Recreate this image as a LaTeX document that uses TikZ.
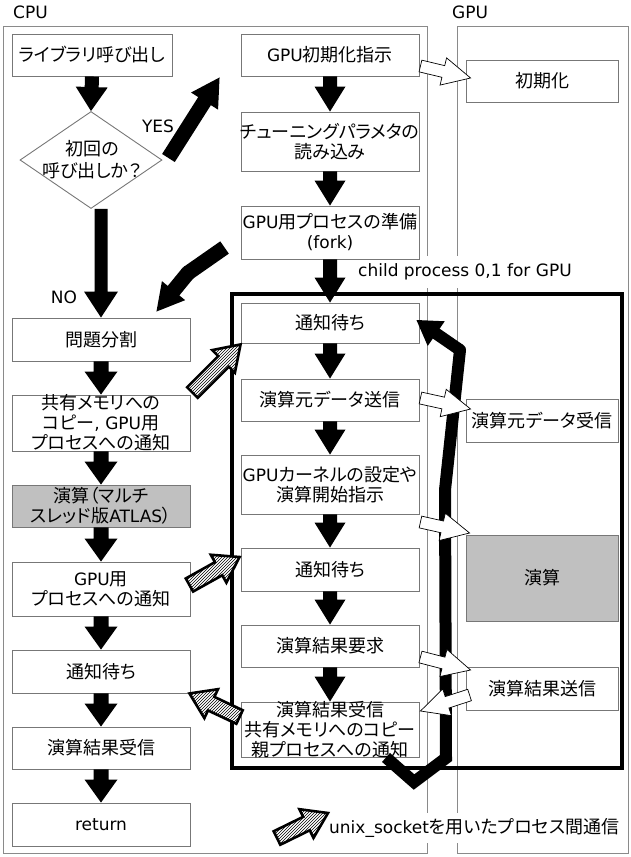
\documentclass[tikz,border=0pt]{standalone}
\usepackage{fontspec}
\setmainfont[RawFeature=+palt]{Noto Sans CJK JP}
\newfontfamily\latf[Scale=0.944]{DejaVu Sans}
\usetikzlibrary{calc,fit,patterns,shapes.geometric}
\definecolor{boxgray}{HTML}{777777}
\definecolor{panelgray}{HTML}{8A8A8A}
\definecolor{fillgray}{HTML}{C0C0C0}
% fat arrow polygon: style, tail, tip, shaft half width, head half width, head length
\newcommand\fatarr[6]{%
  \coordinate (faq) at ($(#3)!#6!(#2)$);
  \path[#1] ($(#2)!#4!90:(#3)$) -- ($(faq)!#4!90:(#3)$) -- ($(faq)!#5!90:(#3)$) -- (#3)
    -- ($(faq)!#5!-90:(#3)$) -- ($(faq)!#4!-90:(#3)$) -- ($(#2)!#4!-90:(#3)$) -- cycle;}
\newcommand\bx[7][box]{%
  \node[#1, fit={(#3,#4) (#5,#6)}] (#2) {};
  \node[txt] at (#2.center) {#7};}
\tikzset{
  box/.style={draw=boxgray, line width=0.9pt, inner sep=0pt},
  gbox/.style={box, fill=fillgray},
  txt/.style={align=center, font=\fontsize{18}{20}\selectfont, inner sep=0pt},
  lab/.style={inner sep=0pt, font=\fontsize{18}{20}\selectfont},
  blk/.style={fill=black},
  wht/.style={draw=black, line width=0.7pt, fill=white, line join=miter},
  hat/.style={draw=black, line width=2.6pt, line join=miter, preaction={fill=white}, pattern=north east lines},
  panel/.style={draw=panelgray, line width=0.8pt},
}
\begin{document}
\begin{tikzpicture}[x=1pt,y=-1pt]
\useasboundingbox (0,0) rectangle (630,857);
% panels
\draw[panel] (3,26) rectangle (427,853);
\draw[panel] (457,26) rectangle (628,853);
\node[lab, anchor=west] (cpulab) at (13,12) {\latf CPU};
\node[lab, anchor=west] (gpulab) at (452,12) {\latf GPU};
% child process label
\node[lab, anchor=west, fill=white, inner xsep=2pt, inner ysep=8pt] (childlab) at (356,272) {\latf child process 0,1 for GPU};
% frame
\draw[line width=4pt] (232,294) rectangle (622,768);
% left column
\bx{lib}{12}{34}{172}{76}{ライブラリ呼び出し}
\node[diamond, draw=boxgray, line width=0.9pt, minimum width=142pt, minimum height=97pt, inner sep=0pt] (dia) at (91,160) {};
\node[txt, font=\fontsize{18}{22}\selectfont] (diatxt) at (92,160) {初回の\\呼び出しか？};
\bx{split}{12}{318}{190}{361}{問題分割}
\bx{shm}{12}{395}{190}{451}{共有メモリへの\\コピー{\latf , GPU}用\\プロセスへの通知}
\bx[gbox]{atlas}{12}{485}{190}{527}{演算（マルチ\\スレッド版{\latf ATLAS}）}
\bx{notify}{12}{562}{190}{616}{{\latf GPU}用\\プロセスへの通知}
\bx{wait}{12}{650}{190}{693}{通知待ち}
\bx{recv}{12}{727}{190}{769}{演算結果受信}
\bx{ret}{12}{803}{190}{846}{\latf return}
% middle column
\bx{gi}{241}{34}{419}{76}{{\latf GPU}初期化指示}
\bx{tune}{241}{112}{419}{171}{チューニングパラメタの\\読み込み}
\bx{fork}{241}{206}{419}{259}{{\latf GPU}用プロセスの準備\\{\latf (fork)}}
\bx{wa}{241}{303}{419}{343}{通知待ち}
\bx{send}{241}{379}{419}{421}{演算元データ送信}
\bx{kern}{241}{455}{419}{514}{{\latf GPU}カーネルの設定や\\演算開始指示}
\bx{wb}{241}{548}{419}{591}{通知待ち}
\bx{req}{241}{625}{419}{667}{演算結果要求}
\bx{rcv}{241}{702}{419}{757}{演算結果受信\\共有メモリへのコピー\\親プロセスへの通知}
% right column
\bx{init}{466}{60}{618}{102}{初期化}
\bx{grecv}{466}{399}{618}{442}{演算元データ受信}
\bx[gbox]{gcalc}{466}{535}{618}{621}{演算}
\bx{gsend}{466}{667}{618}{710}{演算結果送信}
% labels
\node[lab] (yes) at (158,126) {\latf YES};
\node[lab] (no) at (64,297) {\latf NO};
% black flow arrows
\fatarr{blk}{lib.south}{dia.north}{7pt}{16pt}{24pt}
\coordinate (noT) at (split.north |- dia.south);
\fatarr{blk}{noT}{split.north}{6.5pt}{17pt}{26pt}
\fatarr{blk}{split.south}{shm.north}{7.5pt}{16.5pt}{23pt}
\fatarr{blk}{shm.south}{atlas.north}{7.5pt}{16.5pt}{23pt}
\fatarr{blk}{atlas.south}{notify.north}{7.5pt}{16.5pt}{23pt}
\fatarr{blk}{notify.south}{wait.north}{7.5pt}{16.5pt}{23pt}
\fatarr{blk}{wait.south}{recv.north}{7.5pt}{16.5pt}{23pt}
\fatarr{blk}{recv.south}{ret.north}{7.5pt}{16.5pt}{23pt}
\fatarr{blk}{gi.south}{tune.north}{7pt}{15.5pt}{25pt}
\fatarr{blk}{tune.south}{fork.north}{7pt}{15.5pt}{25pt}
\fatarr{blk}{fork.south}{wa.north}{7pt}{15.5pt}{25pt}
\fatarr{blk}{wa.south}{send.north}{7pt}{15.5pt}{25pt}
\fatarr{blk}{send.south}{kern.north}{7pt}{15.5pt}{25pt}
\fatarr{blk}{kern.south}{wb.north}{7pt}{15.5pt}{25pt}
\fatarr{blk}{wb.south}{req.north}{7pt}{15.5pt}{25pt}
\fatarr{blk}{req.south}{rcv.north}{7pt}{15.5pt}{25pt}
% YES arrow
\coordinate (yT) at ($(dia.east)+(6,-2)$);
\coordinate (yP) at ($(gi.south west)+(-21,1)$);
\fatarr{blk}{yT}{yP}{7.5pt}{16pt}{28pt}
% fork -> split arrow
\coordinate (fk1) at ($(fork.west)+(-16,15)$);
\coordinate (fk2) at (188,273);
\coordinate (fk3) at ($(split.north east)+(-34,-6)$);
\draw[line width=15pt] (fk1) -- (fk2);
\fill (fk2) circle (7.5pt);
\fatarr{blk}{fk2}{fk3}{7.5pt}{15pt}{27pt}
% loop arrow
\coordinate (lp1) at ($(rcv.south)+(56,0)$);
\coordinate (lp2) at (414,782);
\coordinate (lp3) at (446,758);
\coordinate (lp4) at (445,490);
\coordinate (lp5) at (460,350);
\coordinate (lp6) at ($(wa.east)+(-3,-3)$);
\draw[line width=12pt, line join=miter] (lp1) -- (lp2) -- (lp3) -- (lp4) -- (lp5);
\fill (lp5) circle (6pt);
\fatarr{blk}{lp5}{lp6}{6pt}{15pt}{24pt}
% white CPU<->GPU arrows
\coordinate (wa1) at ($(gi.east)+(1,11)$);
\coordinate (wb1) at ($(init.west)+(5,-3)$);
\fatarr{wht}{wa1}{wb1}{6pt}{14pt}{28pt}
\coordinate (wa2) at ($(send.east)+(1,-2)$);
\coordinate (wb2) at ($(grecv.west)+(5,-11.5)$);
\fatarr{wht}{wa2}{wb2}{6pt}{14pt}{28pt}
\coordinate (wa3) at ($(kern.east)+(1,37.5)$);
\coordinate (wb3) at ($(gcalc.west)+(4,-45)$);
\fatarr{wht}{wa3}{wb3}{6pt}{14pt}{28pt}
\coordinate (wa4) at ($(req.east)+(1,11)$);
\coordinate (wb4) at ($(gsend.west)+(5,-18.5)$);
\fatarr{wht}{wa4}{wb4}{6pt}{14pt}{28pt}
\coordinate (wa5) at ($(gsend.west)+(4,6.5)$);
\coordinate (wb5) at ($(rcv.east)+(1,-18.5)$);
\fatarr{wht}{wa5}{wb5}{6pt}{14pt}{28pt}
% hatched unix socket arrows
\coordinate (ha1) at ($(shm.north east)+(2,-2)$);
\coordinate (hb1) at ($(wa.south west)+(0,1)$);
\fatarr{hat}{ha1}{hb1}{7.5pt}{16pt}{24pt}
\coordinate (ha2) at ($(notify.east)+(-1,-4)$);
\coordinate (hb2) at ($(wb.west)+(-1,-12.5)$);
\fatarr{hat}{ha2}{hb2}{7.5pt}{16pt}{24pt}
\coordinate (ha3) at ($(rcv.west)+(-1,-12.5)$);
\coordinate (hb3) at ($(wait.south east)+(-1,0)$);
\fatarr{hat}{ha3}{hb3}{7.5pt}{16pt}{24pt}
% legend
\node[lab, anchor=west, fill=white, inner xsep=1pt, inner ysep=5pt] (leg) at (328,828) {{\latf unix\_socket}を用いたプロセス間通信};
\coordinate (hl1) at (277,838);
\coordinate (hl2) at ($(leg.west)+(0,-15)$);
\fatarr{hat}{hl1}{hl2}{7.5pt}{16pt}{24pt}
\end{tikzpicture}
\end{document}
